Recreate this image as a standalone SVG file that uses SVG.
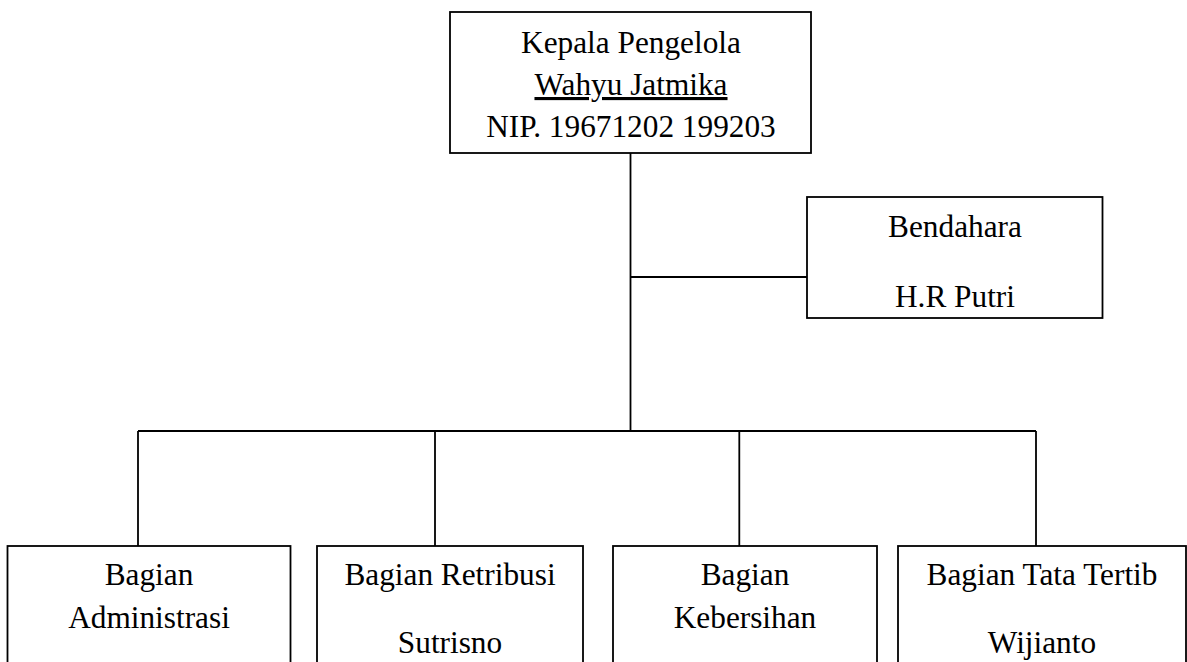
<svg xmlns="http://www.w3.org/2000/svg" width="1187" height="662" viewBox="0 0 1187 662">
<style>
.box{fill:#fff;stroke:#000;stroke-width:1.8}
.ln{fill:none;stroke:#000;stroke-width:1.8}
text{font-family:"Liberation Serif","Times New Roman",serif;font-size:31.3px;fill:#000;text-anchor:middle}
</style>
<rect width="1187" height="662" fill="#fff"/>
<g id="connectors">
<path class="ln" d="M630.5 153 V431"/>
<path class="ln" d="M630.5 277 H807"/>
<path class="ln" d="M138 431 H1036"/>
<path class="ln" d="M138 431 V546 M435 431 V546 M739.3 431 V546 M1036 431 V546"/>
</g>
<g id="kepala">
<rect class="box" x="450" y="12" width="361" height="141"/>
<text x="631" y="53">Kepala Pengelola</text>
<text x="631" y="95" text-decoration="underline">Wahyu Jatmika</text>
<text x="631" y="137">NIP. 19671202 199203</text>
</g>
<g id="bendahara">
<rect class="box" x="807" y="197" width="295.5" height="121"/>
<text x="955" y="237">Bendahara</text>
<text x="955" y="307">H.R Putri</text>
</g>
<g id="administrasi">
<rect class="box" x="7.5" y="546" width="283" height="140"/>
<text x="149" y="585">Bagian</text>
<text x="149" y="628">Administrasi</text>
</g>
<g id="retribusi">
<rect class="box" x="317" y="546" width="266" height="140"/>
<text x="450" y="585">Bagian Retribusi</text>
<text x="450" y="653">Sutrisno</text>
</g>
<g id="kebersihan">
<rect class="box" x="613" y="546" width="264" height="140"/>
<text x="745" y="585">Bagian</text>
<text x="745" y="628">Kebersihan</text>
</g>
<g id="tatatertib">
<rect class="box" x="898" y="546" width="288" height="140"/>
<text x="1042" y="585">Bagian Tata Tertib</text>
<text x="1042" y="653">Wijianto</text>
</g>
</svg>
